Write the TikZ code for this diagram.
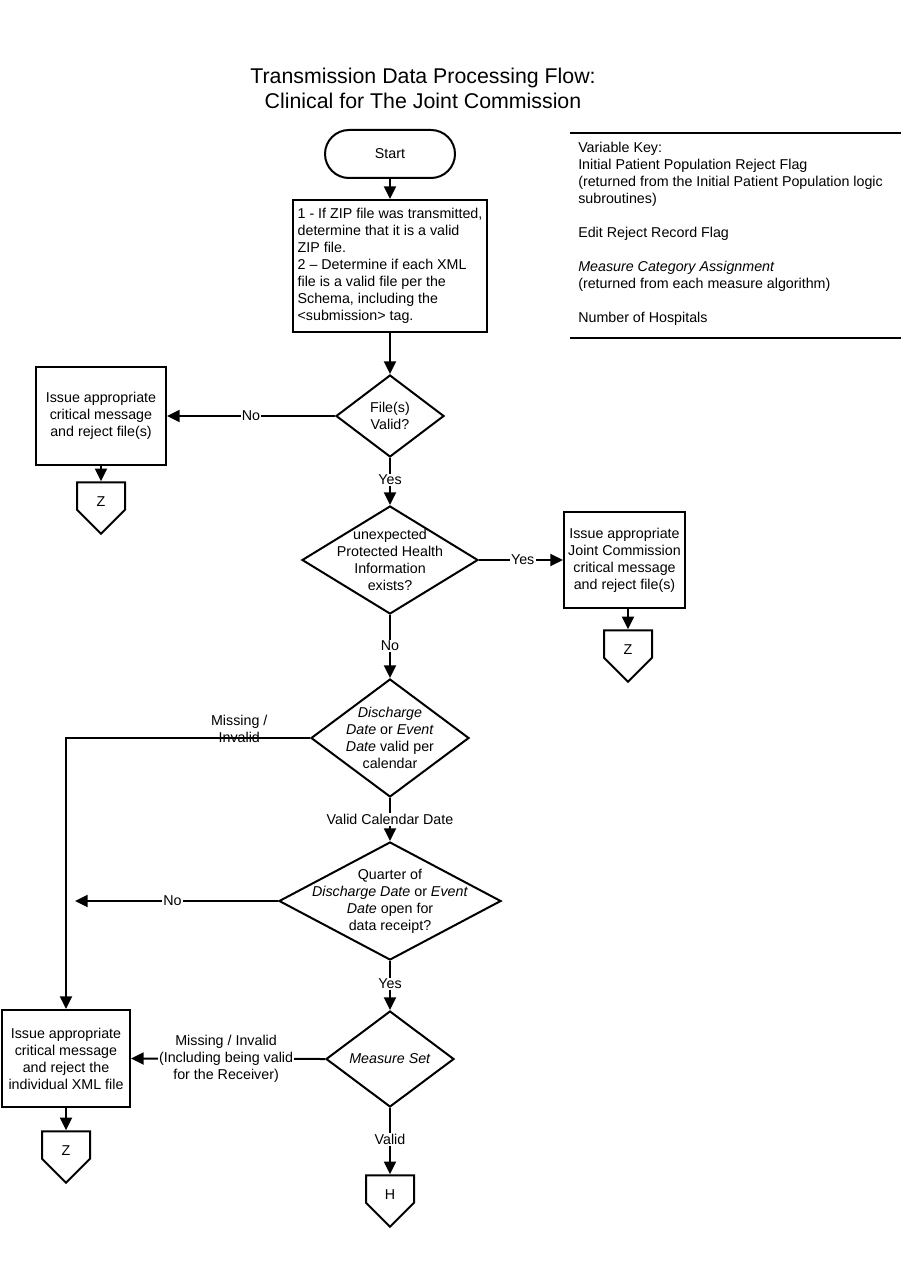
\documentclass[tikz,border=0pt]{standalone}
\usepackage{fontspec}
\setmainfont{Liberation Sans}
\usetikzlibrary{shapes.geometric, shapes.symbols, arrows.meta}

\begin{document}
\begin{tikzpicture}[x=0.75pt, y=-0.75pt,
    every node/.style={font=\fontsize{10.7}{12.75}\selectfont},
    flow/.style={line width=1.5pt, -{Triangle[length=9.5pt,width=9pt]}},
    line/.style={line width=1.5pt},
    procbox/.style={draw, line width=1.5pt, align=center, inner sep=0pt},
    decision/.style={draw, diamond, line width=1.5pt, inner sep=0pt},
    dtext/.style={label={[align=center]center:#1}},
    offpage/.style={draw, signal, signal to=south, signal pointer angle=90, line width=1.5pt,
      minimum width=36pt, minimum height=20.6pt, inner sep=0pt,
      label={[yshift=-4.5pt]center:#1}},
    lab/.style={fill=white, inner sep=1pt, align=center}]
        \useasboundingbox (0,0) rectangle (901,1287);
        % Title
        \node[align=center, font=\fontsize{16}{18.75}\selectfont] (title) at (423,88.5)
          {Transmission Data Processing Flow:\\Clinical for The Joint Commission};
        % Variable key
        \draw[line] (570,133) -- (901,133);
        \draw[line] (570,338) -- (901,338);
        \node[anchor=north west, align=left, inner sep=0pt] (key) at (578,142)
          {Variable Key:\\Initial Patient Population Reject Flag\\(returned from the Initial Patient Population logic\\subroutines)\\[12.75pt]
           Edit Reject Record Flag\\[12.75pt]
           \textit{Measure Category Assignment}\\(returned from each measure algorithm)\\[12.75pt]
           Number of Hospitals};
        % Main column
        \node[draw, line width=1.5pt, rounded corners=18pt, minimum width=97.5pt, minimum height=36pt] (start) at (390,154) {Start};
        \node[procbox, align=left, minimum width=145.5pt, minimum height=99pt] (check) at (390,266)
          {1 - If ZIP file was transmitted,\\determine that it is a valid\\ZIP file.\\2 -- Determine if each XML\\file is a valid file per the\\Schema, including the\\<submission> tag.};
        \node[decision, minimum width=81pt, minimum height=61.5pt,
          dtext={File(s)\\Valid?}] (valid) at (390,416) {};
        \node[decision, minimum width=132pt, minimum height=81pt,
          dtext={unexpected\\Protected Health\\Information\\exists?}] (phi) at (390,560) {};
        \node[decision, minimum width=118.5pt, minimum height=88.5pt,
          dtext={\textit{Discharge}\\\textit{Date} or \textit{Event}\\\textit{Date} valid per\\calendar}] (caldate) at (390,738) {};
        \node[decision, minimum width=166.5pt, minimum height=88.5pt,
          dtext={Quarter of\\\textit{Discharge Date} or \textit{Event}\\\textit{Date} open for\\data receipt?}] (quarter) at (390,901) {};
        \node[decision, minimum width=96pt, minimum height=72pt,
          dtext={\textit{Measure Set}}] (mset) at (390,1059) {};
        \node[offpage=H] (hcon) at (390,1189) {};
        % Reject boxes
        \node[procbox, minimum width=97.5pt, minimum height=73.5pt] (rejfile) at (101,416)
          {Issue appropriate\\critical message\\and reject file(s)};
        \node[offpage=Z] (zleft) at (101,496) {};
        \node[procbox, minimum width=90.75pt, minimum height=72pt] (rejphi) at (624.5,560)
          {Issue appropriate\\Joint Commission\\critical message\\and reject file(s)};
        \node[offpage=Z] (zright) at (628,644) {};
        \node[procbox, minimum width=96pt, minimum height=72.75pt] (rejxml) at (66,1058.5)
          {Issue appropriate\\critical message\\and reject the\\individual XML file};
        \node[offpage=Z] (zxml) at (66,1145) {};
        \coordinate (bend) at (66,738);
        \coordinate (noend) at (75,901);
        % Connectors
        \draw[flow] (start) -- (check);
        \draw[flow] (check) -- (valid);
        \draw[flow] (valid.west) -- node[lab, pos=0.5] {No} (rejfile.east);
        \draw[flow] (rejfile) -- (zleft);
        \draw[flow] (valid.south) -- node[lab, pos=0.47] {Yes} (phi.north);
        \draw[flow] (phi.east) -- node[lab, pos=0.52] {Yes} (rejphi.west);
        \draw[flow] (rejphi.south -| zright) -- (zright);
        \draw[flow] (phi.south) -- node[lab, pos=0.49] {No} (caldate.north);
        \draw[flow] (caldate.west) -- node[align=center, pos=0.29, yshift=6.5pt] {Missing /\\Invalid} (bend) -- (rejxml.north);
        \draw[flow] (caldate.south) -- node[lab, pos=0.49] {Valid Calendar Date} (quarter.north);
        \draw[flow] (quarter.west) -- node[lab, pos=0.52] {No} (noend);
        \draw[flow] (quarter.south) -- node[lab, pos=0.47] {Yes} (mset.north);
        \draw[flow] (mset.west) -- node[lab, pos=0.51] {Missing / Invalid\\(Including being valid\\for the Receiver)} (rejxml.east);
        \draw[flow] (rejxml) -- (zxml);
        \draw[flow] (mset.south) -- node[lab, pos=0.48] {Valid} (hcon.north);
      \end{tikzpicture}
\end{document}
